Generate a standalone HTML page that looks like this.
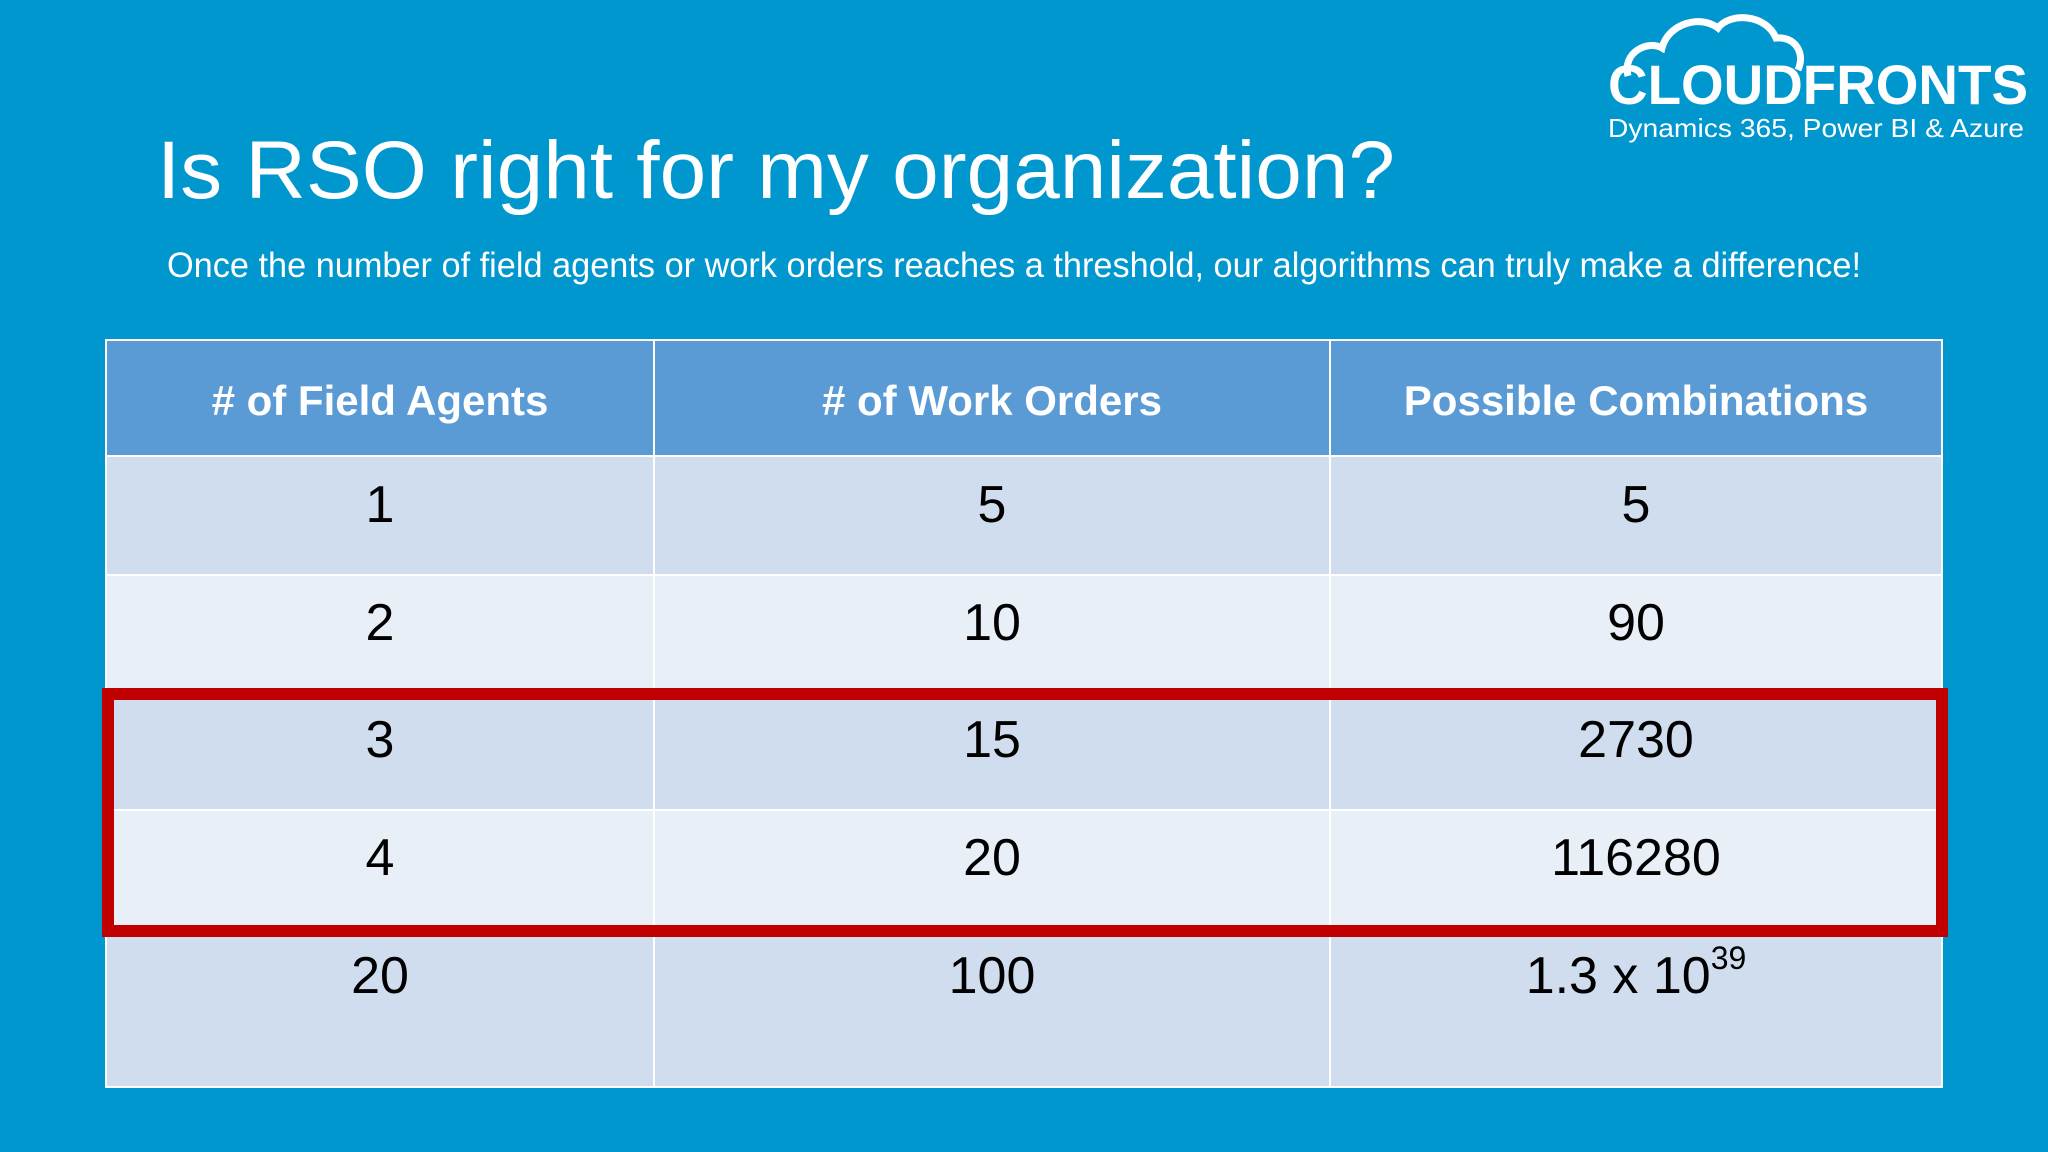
<!DOCTYPE html>
<html><head><meta charset="utf-8"><style>
html,body{margin:0;padding:0;width:2048px;height:1152px;overflow:hidden;background:#0096CE}
svg{display:block}
text{font-family:"Liberation Sans",sans-serif}
</style></head><body>
<svg width="2048" height="1152" viewBox="0 0 2048 1152">
<rect x="0" y="0" width="2048" height="1152" fill="#0096CE"/>
<g>
<path d="M1628 76 C1622 52 1648 40 1662 48 C1668 24 1700 14 1718 28 C1730 12 1766 14 1776 38 C1794 36 1806 52 1798 70" fill="none" stroke="#fff" stroke-width="7"/>
<text x="1608" y="104" font-size="56" font-weight="bold" fill="#fff" textLength="420" lengthAdjust="spacingAndGlyphs">CLOUDFRONTS</text>
<text x="1608" y="137" font-size="26" fill="#fff" textLength="416" lengthAdjust="spacingAndGlyphs">Dynamics 365, Power BI &amp; Azure</text>
</g>
<text x="157" y="198" font-size="82" fill="#fff" textLength="1238" lengthAdjust="spacingAndGlyphs">Is RSO right for my organization?</text>
<text x="167" y="277" font-size="35" fill="#fff" textLength="1694" lengthAdjust="spacingAndGlyphs">Once the number of field agents or work orders reaches a threshold, our algorithms can truly make a difference!</text>
<g id="tbl"></g>
<rect x="108" y="694" width="1834" height="237" fill="none" stroke="#C00000" stroke-width="12"/>
</svg>
<script>
const headers=["# of Field Agents","# of Work Orders","Possible Combinations"];
const agents=["1","2","3","4","20"];
const orders=["5","10","15","20","100"];
const combos=["5","90","2730","116280","1.3 x 10"];
const colX=[106,654,1330,1942];
const rowY=[340,456,575,690,810,928,1087];
const rowFill=["#D0DDEE","#E9EFF7"];
const ns="http://www.w3.org/2000/svg";
const g=document.getElementById('tbl');
function mk(tag,attrs){const e=document.createElementNS(ns,tag);for(const k in attrs)e.setAttribute(k,attrs[k]);return e;}
for(let c=0;c<3;c++){
 const r=mk('rect',{x:colX[c],y:rowY[0],width:colX[c+1]-colX[c],height:rowY[1]-rowY[0],fill:'#5B9BD5',stroke:'#fff','stroke-width':2});
 
 
 g.appendChild(r);
 const t=mk('text',{x:(colX[c]+colX[c+1])/2,y:415,'font-size':42,'font-weight':'bold',fill:'#fff','text-anchor':'middle'});
 t.textContent=headers[c];
 
 
 g.appendChild(t);
}
const cols=[agents,orders,combos];
const base=[522,640,757,875,993];
for(let i=0;i<agents.length;i++){
 for(let c=0;c<3;c++){
  const r=mk('rect',{x:colX[c],y:rowY[i+1],width:colX[c+1]-colX[c],height:rowY[i+2]-rowY[i+1],fill:rowFill[i%2],stroke:'#fff','stroke-width':2});
  
  
  g.appendChild(r);
  const t=mk('text',{x:(colX[c]+colX[c+1])/2,y:base[i],'font-size':52,fill:'#000','text-anchor':'middle'});
  t.textContent=cols[c][i];
  if(c===2&&i===4){const s=mk('tspan',{'font-size':32,dy:-24});s.textContent='39';t.appendChild(s);}
  
  
  g.appendChild(t);
 }
}
</script>
</body></html>
